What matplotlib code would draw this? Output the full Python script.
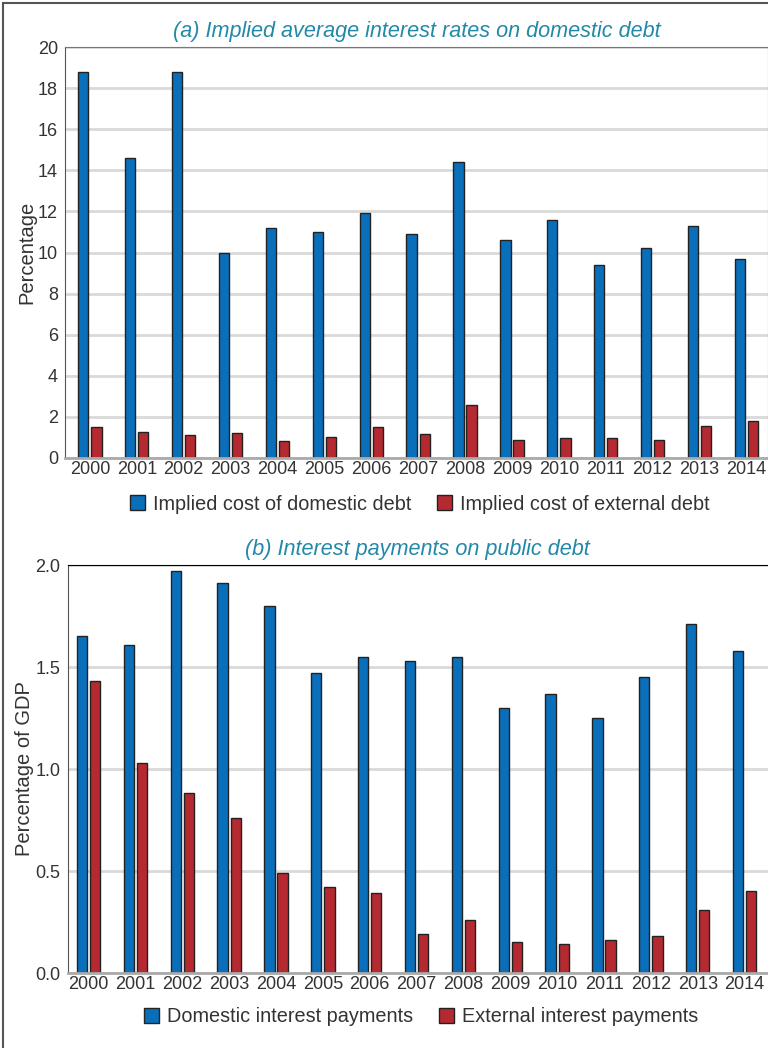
import numpy as np
import matplotlib
matplotlib.use('Agg')
import matplotlib.pyplot as plt
from matplotlib.lines import Line2D
from matplotlib.patches import Patch

plt.rcParams['font.family'] = ['Liberation Sans', 'DejaVu Sans']

years = ['2000', '2001', '2002', '2003', '2004', '2005', '2006', '2007',
         '2008', '2009', '2010', '2011', '2012', '2013', '2014']

# (a) implied average interest rates
cost_domestic = [18.8, 14.6, 18.8, 10.0, 11.2, 11.0, 11.9, 10.9,
                 14.4, 10.6, 11.6, 9.4, 10.2, 11.3, 9.7]
cost_external = [1.49, 1.28, 1.14, 1.22, 0.85, 1.01, 1.49, 1.15,
                 2.56, 0.86, 0.96, 0.95, 0.86, 1.58, 1.80]

# (b) interest payments, % of GDP
pay_domestic = [1.65, 1.61, 1.97, 1.91, 1.80, 1.47, 1.55, 1.53,
                1.55, 1.30, 1.37, 1.25, 1.45, 1.71, 1.58]
pay_external = [1.43, 1.03, 0.88, 0.76, 0.49, 0.42, 0.39, 0.19,
                0.26, 0.15, 0.14, 0.16, 0.18, 0.31, 0.40]

blue = '#0a6fba'
red = '#b52a31'
title_col = '#2389a8'
txt = '#333333'

fig = plt.figure(figsize=(7.68, 10.48), dpi=100)

# figure border (left and top)
fig.add_artist(Line2D([3 / 768, 3 / 768], [0, 1 - 3 / 1048], color='#555555', lw=1.5))
fig.add_artist(Line2D([3 / 768, 1], [1 - 3 / 1048, 1 - 3 / 1048], color='#555555', lw=1.5))

ax1 = fig.add_axes([65 / 768, 1 - 458 / 1048, 703 / 768, 411 / 1048])
ax2 = fig.add_axes([67.5 / 768, 1 - 973 / 1048, 700.5 / 768, 408 / 1048])

x = np.arange(len(years))
w = 0.22
off = 0.14


def style(ax, ylim, yticks, ylabels, ylabel, title, xlim):
    ax.set_ylim(*ylim)
    ax.set_xlim(*xlim)
    ax.set_yticks(yticks)
    ax.set_yticklabels(ylabels)
    ax.set_xticks(x)
    ax.set_xticklabels(years)
    ax.tick_params(length=0, labelsize=13, colors=txt, pad=2)
    ax.tick_params(axis='y', pad=5)
    ax.yaxis.grid(True, color='#d9d9d9', lw=2)
    ax.set_axisbelow(True)
    ax.set_ylabel(ylabel, fontsize=14.5, color=txt, labelpad=1)
    ax.set_title(title, fontsize=15.6, style='italic', color=title_col, pad=7)
    ax.spines['bottom'].set_color('#aaaaaa')
    ax.spines['bottom'].set_linewidth(2)
    ax.spines['left'].set_color('#555555')


ax1.bar(x - off, cost_domestic, w, color=blue, edgecolor='#222222', lw=1)
ax1.bar(x + off, cost_external, w, color=red, edgecolor='#222222', lw=1)
style(ax1, (0, 20), range(0, 21, 2), [str(v) for v in range(0, 21, 2)],
      'Percentage', '(a) Implied average interest rates on domestic debt',
      (-0.53, 14.46))
ax1.spines['top'].set_color('#777777')
ax1.spines['right'].set_color('#777777')

ax2.bar(x - off, pay_domestic, w, color=blue, edgecolor='#222222', lw=1)
ax2.bar(x + off, pay_external, w, color=red, edgecolor='#222222', lw=1)
style(ax2, (0, 2.0), [0, 0.5, 1.0, 1.5, 2.0], ['0.0', '0.5', '1.0', '1.5', '2.0'],
      'Percentage of GDP', '(b) Interest payments on public debt',
      (-0.45, 14.5))
ax2.spines['top'].set_color('black')
ax2.spines['right'].set_visible(False)

leg_kw = dict(ncol=2, frameon=False, fontsize=14.3, handlelength=0.75, handleheight=0.75,
              handletextpad=0.4, columnspacing=1.3, labelcolor=txt)
ax1.legend(handles=[Patch(facecolor=blue, edgecolor='#222222', label='Implied cost of domestic debt'),
                    Patch(facecolor=red, edgecolor='#222222', label='Implied cost of external debt')],
           loc='center', bbox_to_anchor=(0.505, -0.112), **leg_kw)
ax2.legend(handles=[Patch(facecolor=blue, edgecolor='#222222', label='Domestic interest payments'),
                    Patch(facecolor=red, edgecolor='#222222', label='External interest payments')],
           loc='center', bbox_to_anchor=(0.505, -0.107), **leg_kw)

fig.savefig('out.png', dpi=100)
